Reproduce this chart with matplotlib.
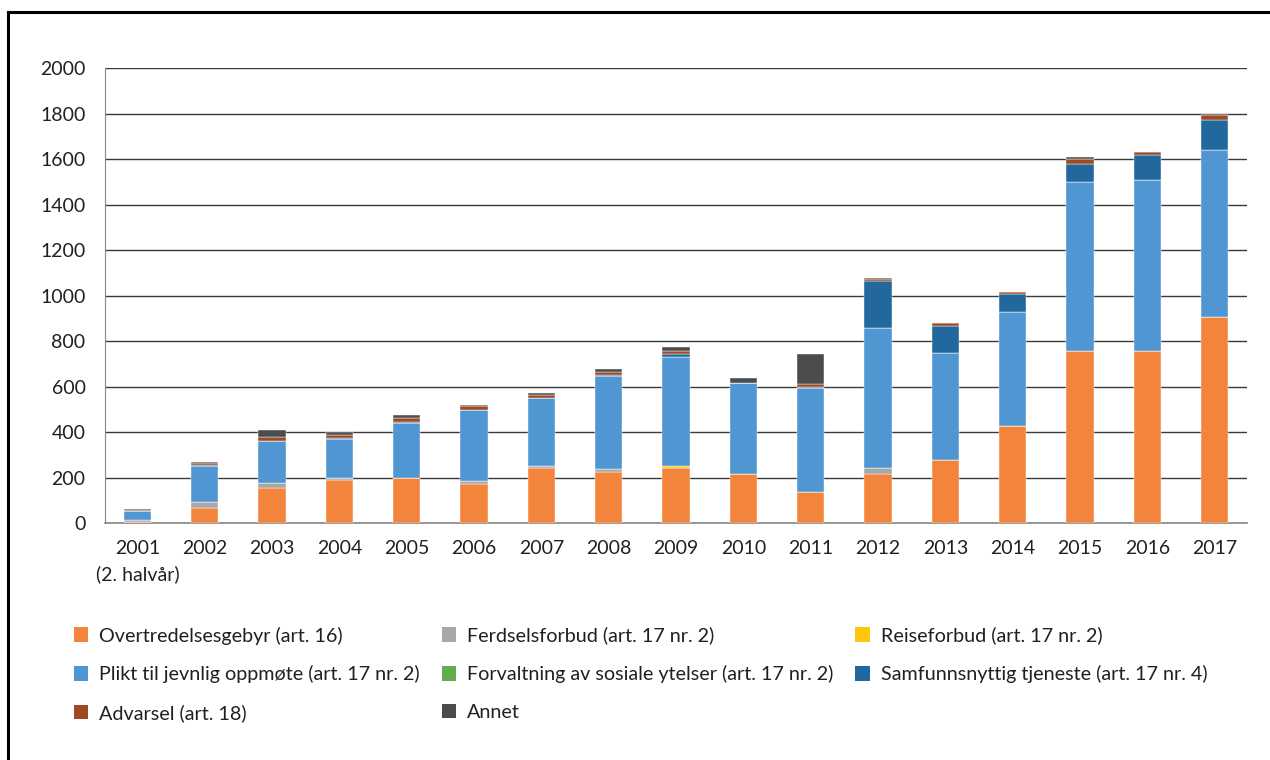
import matplotlib.pyplot as plt
from matplotlib.patches import Patch
from matplotlib.lines import Line2D
import numpy as np

plt.rcParams['font.family'] = ['Lato', 'DejaVu Sans']

years = ['2001\n(2. halvår)', '2002', '2003', '2004', '2005', '2006', '2007', '2008', '2009',
         '2010', '2011', '2012', '2013', '2014', '2015', '2016', '2017']

overtredelse = [4, 64, 152, 190, 196, 173, 243, 226, 243, 214, 138, 217, 279, 426, 755, 755, 904]
ferdsel = [8, 29, 23, 6, 2, 12, 9, 10, 0, 0, 0, 23, 0, 0, 0, 0, 0]
reise = [0, 0, 0, 0, 0, 0, 0, 0, 7, 0, 0, 0, 0, 0, 0, 0, 0]
plikt = [40, 158, 185, 174, 240, 311, 297, 412, 478, 401, 457, 618, 470, 501, 743, 752, 737]
forvaltning = [0, 0, 0, 0, 0, 0, 0, 0, 0, 0, 0, 0, 0, 0, 0, 0, 0]
samfunn = [3, 4, 2, 4, 6, 0, 0, 4, 13, 0, 2, 207, 117, 80, 82, 111, 131]
advarsel = [2, 8, 14, 15, 16, 18, 15, 10, 16, 0, 12, 7, 15, 9, 22, 13, 23]
annet = [6, 5, 31, 10, 15, 6, 7, 13, 15, 22, 132, 7, 0, 0, 9, 0, 0]

series = [overtredelse, ferdsel, reise, plikt, forvaltning, samfunn, advarsel, annet]
names = ['Overtredelsesgebyr (art. 16)', 'Ferdselsforbud (art. 17 nr. 2)',
         'Reiseforbud (art. 17 nr. 2)', 'Plikt til jevnlig oppmøte (art. 17 nr. 2)',
         'Forvaltning av sosiale ytelser (art. 17 nr. 2)',
         'Samfunnsnyttig tjeneste (art. 17 nr. 4)', 'Advarsel (art. 18)', 'Annet']
colors = ['#F3843B', '#A7A8AA', '#FFC60B', '#5096D2', '#62AE4F', '#22689C', '#A04A25', '#4B4C4E']

txt = '#231F20'

fig = plt.figure(figsize=(12.7, 7.6), dpi=100)
ax = fig.add_axes([0.0827, 0.3118, 0.8992, 0.5987])

x = np.arange(len(years))
bottom = np.zeros(len(years))
for vals, c in zip(series, colors):
    ax.bar(x, vals, 0.41, bottom=bottom, color=c, edgecolor='white', linewidth=0.3, zorder=3)
    bottom += np.array(vals)

ax.set_ylim(0, 2000)
ax.set_xlim(-0.48, 16.48)
ax.set_yticks(range(0, 2001, 200))
ax.yaxis.grid(True, color='#3a3a3a', linewidth=1.0, zorder=0)
ax.set_xticks(x)
ax.set_xticklabels(years, linespacing=1.55)
ax.tick_params(length=0, labelsize=14, colors=txt, pad=12)
ax.tick_params(axis='y', pad=14)
for s in ['top', 'right']:
    ax.spines[s].set_visible(False)
ax.spines['left'].set_color('#888888')
ax.spines['bottom'].set_color('#888888')
ax.spines['bottom'].set_linewidth(1.2)

# legend reads row-wise in the original, matplotlib fills columns
order = [0, 3, 6, 1, 4, 7, 2, 5]
handles = [Patch(facecolor=colors[i], edgecolor='none') for i in order]
labels = [names[i] for i in order]
fig.legend(handles, labels, ncol=3, loc='upper left', bbox_to_anchor=(0.044, 0.199),
           frameon=False, fontsize=14.2, handlelength=0.75, handleheight=0.75,
           handletextpad=0.55, columnspacing=1.1, labelspacing=1.05, labelcolor=txt)

# outer frame (top and left)
fig.add_artist(Line2D([0.0063, 0.0063], [0, 0.984], color='black', lw=2.2, transform=fig.transFigure))
fig.add_artist(Line2D([0.0063, 1], [0.984, 0.984], color='black', lw=2.2, transform=fig.transFigure))

fig.savefig('out.png', dpi=100)
